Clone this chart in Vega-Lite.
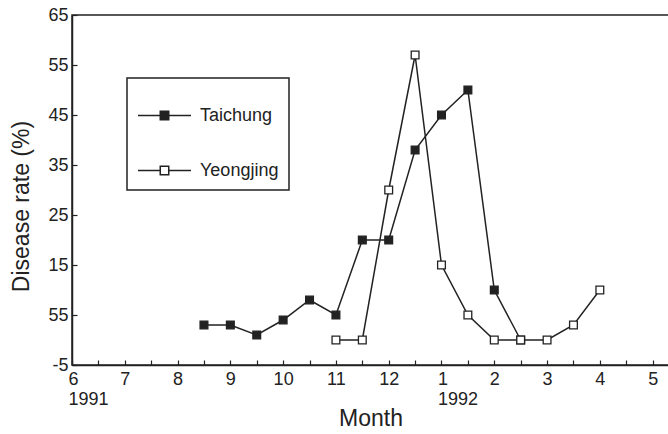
{
  "$schema": "https://vega.github.io/schema/vega-lite/v6.json",
  "width": 597,
  "height": 350,
  "autosize": {"type": "none"},
  "padding": {"left": 72, "top": 15, "right": 0, "bottom": 69},
  "background": "white",
  "config": {
    "font": "Liberation Sans",
    "view": {"stroke": "#222", "strokeWidth": 1.5},
    "axis": {
      "domainColor": "#222",
      "domainWidth": 1.5,
      "tickColor": "#222",
      "tickWidth": 1.2,
      "grid": false,
      "labelColor": "#222",
      "titleColor": "#222",
      "labelFont": "Liberation Sans",
      "titleFont": "Liberation Sans",
      "labelFontSize": 18,
      "titleFontWeight": "normal"
    },
    "legend": {
      "strokeColor": "#222",
      "strokeWidth": 1.5,
      "fillColor": "white"
    }
  },
  "data": {
    "values": [
      {"t": 2.5, "rate": 3, "site": "Taichung"},
      {"t": 3.0, "rate": 3, "site": "Taichung"},
      {"t": 3.5, "rate": 1, "site": "Taichung"},
      {"t": 4.0, "rate": 4, "site": "Taichung"},
      {"t": 4.5, "rate": 8, "site": "Taichung"},
      {"t": 5.0, "rate": 5, "site": "Taichung"},
      {"t": 5.5, "rate": 20, "site": "Taichung"},
      {"t": 6.0, "rate": 20, "site": "Taichung"},
      {"t": 6.5, "rate": 38, "site": "Taichung"},
      {"t": 7.0, "rate": 45, "site": "Taichung"},
      {"t": 7.5, "rate": 50, "site": "Taichung"},
      {"t": 8.0, "rate": 10, "site": "Taichung"},
      {"t": 8.5, "rate": 0, "site": "Taichung"},
      {"t": 5.0, "rate": 0, "site": "Yeongjing"},
      {"t": 5.5, "rate": 0, "site": "Yeongjing"},
      {"t": 6.0, "rate": 30, "site": "Yeongjing"},
      {"t": 6.5, "rate": 57, "site": "Yeongjing"},
      {"t": 7.0, "rate": 15, "site": "Yeongjing"},
      {"t": 7.5, "rate": 5, "site": "Yeongjing"},
      {"t": 8.0, "rate": 0, "site": "Yeongjing"},
      {"t": 8.5, "rate": 0, "site": "Yeongjing"},
      {"t": 9.0, "rate": 0, "site": "Yeongjing"},
      {"t": 9.5, "rate": 3, "site": "Yeongjing"},
      {"t": 10.0, "rate": 10, "site": "Yeongjing"}
    ]
  },
  "encoding": {
    "x": {
      "field": "t",
      "type": "quantitative",
      "scale": {"domain": [0, 11.31], "nice": false, "zero": false},
      "axis": {
        "title": "Month",
        "titleFontSize": 23,
        "titleY": 60,
        "titleBaseline": "alphabetic",
        "values": [0, 0.5, 1, 1.5, 2, 2.5, 3, 3.5, 4, 4.5, 5, 5.5, 6, 6.5, 7, 7.5, 8, 8.5, 9, 9.5, 10, 10.5, 11],
        "tickSize": -5,
        "labelPadding": 10,
        "labelOverlap": false,
        "labelFlush": false,
        "labelLineHeight": 20,
        "labelExpr": "datum.value % 1 != 0 ? '' : datum.value == 0 ? ['6','1991'] : datum.value == 7 ? ['1','1992'] : '' + (datum.value < 7 ? datum.value + 6 : datum.value - 6)",
        "labelAlign": {"condition": {"test": "datum.value == 0 || datum.value == 7", "value": "left"}, "value": "center"},
        "labelOffset": {"condition": {"test": "datum.value == 0 || datum.value == 7", "value": -4}, "value": 0}
      }
    },
    "y": {
      "field": "rate",
      "type": "quantitative",
      "scale": {"domain": [-5, 65], "nice": false, "zero": false},
      "axis": {
        "title": "Disease rate (%)",
        "titleFontSize": 23,
        "titleX": -39,
        "titleY": 191,
        "values": [-5, 5, 15, 25, 35, 45, 55, 65],
        "tickSize": -5,
        "labelPadding": 9,
        "labelFlush": false,
        "labelOverlap": false,
        "labelExpr": "datum.value == 5 ? '55' : '' + datum.value"
      }
    }
  },
  "layer": [
    {
      "mark": {"type": "line", "color": "#222", "strokeWidth": 1.5},
      "encoding": {"detail": {"field": "site"}}
    },
    {
      "mark": {"type": "point", "shape": "square", "size": 60, "stroke": "#222", "strokeWidth": 1.3, "opacity": 1},
      "encoding": {
        "fill": {
          "field": "site",
          "type": "nominal",
          "scale": {"domain": ["Taichung", "Yeongjing"], "range": ["#222", "white"]},
          "legend": {
            "title": null,
            "orient": "none",
            "legendX": 55,
            "legendY": 63,
            "padding": 10,
            "symbolType": "M-1,0H-0.16M0.16,0H1M-0.16,-0.16H0.16V0.16H-0.16Z",
            "symbolSize": 2809,
            "symbolStrokeColor": "#222",
            "symbolStrokeWidth": 1.5,
            "symbolOpacity": 1,
            "labelFontSize": 18,
            "labelColor": "#222",
            "labelOffset": 8,
            "rowPadding": 18
          }
        }
      }
    }
  ]
}
